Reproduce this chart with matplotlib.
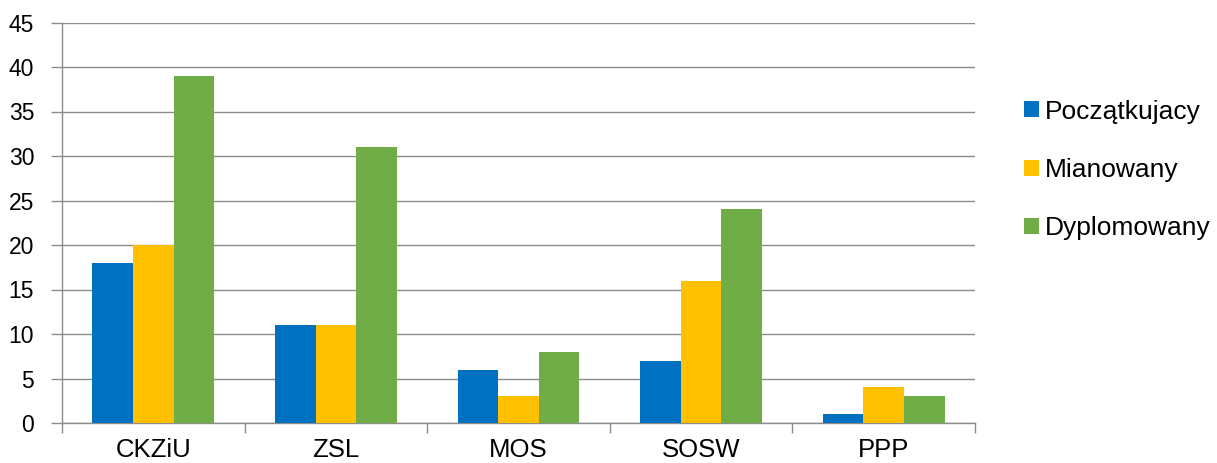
import numpy as np
import matplotlib
matplotlib.use("Agg")
from matplotlib import pyplot as plt

plt.rcParams['font.family'] = ['Liberation Sans', 'DejaVu Sans']

categories = ["CKZiU", "ZSL", "MOS", "SOSW", "PPP"]
poczatkujacy = [18, 11, 6, 7, 1]
mianowany = [20, 11, 3, 16, 4]
dyplomowany = [39, 31, 8, 24, 3]
labels = ["Początkujacy", "Mianowany", "Dyplomowany"]
colors = ["#0070C0", "#FFC000", "#70AD47"]
yticks = list(range(0, 50, 5))

fig = plt.figure(figsize=(12.17, 4.63), dpi=100)
ax = fig.add_axes([62 / 1217, 40 / 463, 913 / 1217, 400.5 / 463])

x = np.arange(len(categories))
w = 1 / 4.5
for i, (vals, lab, col) in enumerate(zip((poczatkujacy, mianowany, dyplomowany), labels, colors)):
    ax.bar(x + (i - 1) * w, vals, width=w, color=col, label=lab, zorder=3)

grid_col = "#8C8C8C"
ax.set_xlim(-0.5, len(categories) - 0.5)
ax.set_ylim(0, 45)
ax.set_yticks(yticks)
ax.yaxis.grid(True, color=grid_col, linewidth=1, zorder=0)

# category labels centred, tick marks between categories
ax.set_xticks(x)
ax.set_xticklabels(categories, fontsize=18.5)
ax.tick_params(axis="x", length=0, pad=11)
ax.set_xticks(np.arange(-0.5, len(categories)), minor=True)
ax.tick_params(axis="x", which="minor", length=7, color=grid_col, width=1)
ax.tick_params(axis="y", length=8, color=grid_col, width=1, labelsize=16.5, pad=12)

for s in ("top", "right"):
    ax.spines[s].set_visible(False)
for s in ("left", "bottom"):
    ax.spines[s].set_color(grid_col)
    ax.spines[s].set_linewidth(1)

fig.legend(loc="center left", bbox_to_anchor=(1024 / 1217, 1 - 170 / 463),
           frameon=False, fontsize=19, handlelength=0.55, handleheight=0.55,
           handletextpad=0.25, labelspacing=1.3, borderpad=0, borderaxespad=0)

fig.savefig("out.png", dpi=100)
